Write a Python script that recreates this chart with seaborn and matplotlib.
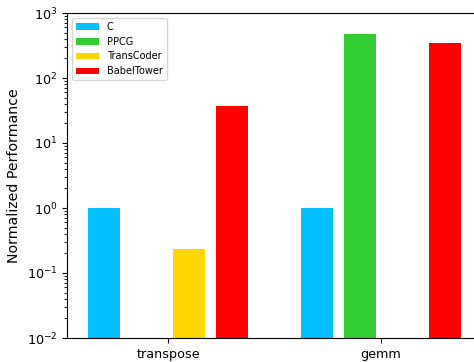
import seaborn as sns
import matplotlib.pyplot as plt
import pandas as pd
import numpy as np

# Benchmarks and normalized performance per method (NaN = not available)
benchmarks = ["transpose", "gemm"]
methods = ["C", "PPCG", "TransCoder", "BabelTower"]
c_vals = [1.0, 1.0]
ppcg_vals = [np.nan, 475.0]
transcoder_vals = [0.234, np.nan]
babeltower_vals = [37.0, 345.0]
colors = ["#00BFFF", "#32CD32", "#FFD700", "#FF0000"]

rows = []
for m, vals in zip(methods, [c_vals, ppcg_vals, transcoder_vals, babeltower_vals]):
    for b, v in zip(benchmarks, vals):
        if not np.isnan(v):
            rows.append({"Benchmark": b, "Method": m, "Value": v})
df = pd.DataFrame(rows)

fig = plt.figure(figsize=(4.74, 3.62), dpi=100)
# axes placed in pixel terms; right spine falls just outside the image like the original crop
ax = fig.add_axes([67 / 474, 24 / 362, 415 / 474, 325 / 362])

sns.barplot(
    data=df, x="Benchmark", y="Value", hue="Method",
    order=benchmarks, hue_order=methods, palette=colors,
    width=0.8, gap=0.25, saturation=1, errorbar=None, ax=ax,
)

ax.set_yscale("log")
ax.set_ylim(1e-2, 1e3)
ax.set_xlim(-0.475, 1.475)
ax.set_xlabel("")
ax.set_ylabel("Normalized Performance", fontsize=10.2)
ax.yaxis.set_label_coords(-0.111, 0.5)
ax.tick_params(axis="both", labelsize=9.2)

ax.legend(loc="upper left", fontsize=7, frameon=True, handlelength=2.4)

plt.savefig("out.png", dpi=100)
plt.close()
